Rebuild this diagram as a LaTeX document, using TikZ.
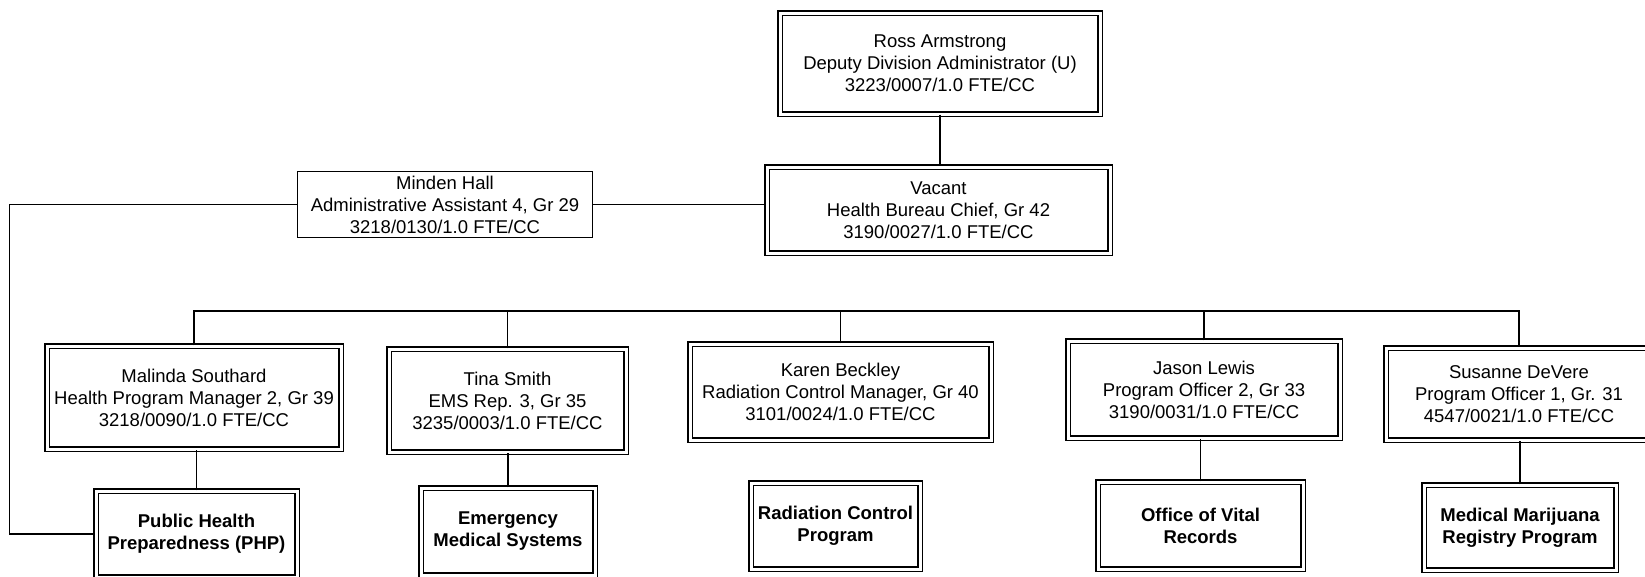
\documentclass[tikz,border=0pt]{standalone}
\usepackage{fontspec}
\setmainfont{Liberation Sans}
\usetikzlibrary{positioning}

\begin{document}
\begin{tikzpicture}[
  x=1pt, y=-1pt,
  line width=1.3pt,
  font=\fontsize{18.5}{22}\selectfont,
  post/.style={draw, double=white, double distance=3pt, align=center, inner sep=2pt},
  unit/.style={post, font=\fontsize{18.5}{22}\selectfont\bfseries},
  aide/.style={draw, line width=1.4pt, align=center, inner sep=2pt}]
  \useasboundingbox (0,0) rectangle (1645,576);
  % top of the chart
  \node[post, minimum width=320pt, minimum height=101pt] (ross) at (940,63.5)
    {Ross Armstrong\\Deputy Division Administrator (U)\\3223/0007/1.0 FTE/CC};
  \node[post, minimum width=343pt, minimum height=86pt] (vacant) at (938.5,210)
    {Vacant\\Health Bureau Chief, Gr 42\\3190/0027/1.0 FTE/CC};
  \node[aide, minimum width=295pt, minimum height=66pt] (minden) at (445,204.5)
    {Minden Hall\\Administrative Assistant 4, Gr 29\\3218/0130/1.0 FTE/CC};
  % managers
  \node[post, minimum width=294pt, minimum height=103pt] (malinda) at (194,397.5)
    {Malinda Southard\\Health Program Manager 2, Gr 39\\3218/0090/1.0 FTE/CC};
  \node[post, minimum width=237pt, minimum height=103pt] (tina) at (507.5,400.5)
    {Tina Smith\\EMS Rep. 3, Gr 35\\3235/0003/1.0 FTE/CC};
  \node[post, minimum width=301pt, minimum height=96pt] (karen) at (840.5,392)
    {Karen Beckley\\Radiation Control Manager, Gr 40\\3101/0024/1.0 FTE/CC};
  \node[post, minimum width=272pt, minimum height=97pt] (jason) at (1204,389.5)
    {Jason Lewis\\Program Officer 2, Gr 33\\3190/0031/1.0 FTE/CC};
  \node[post, minimum width=266pt, minimum height=92pt] (susanne) at (1519,394)
    {Susanne DeVere\\Program Officer 1, Gr. 31\\4547/0021/1.0 FTE/CC};
  % programs
  \node[unit, minimum width=201pt, minimum height=86pt] (php) at (196.5,534)
    {Public Health\\Preparedness (PHP)};
  \node[unit, minimum width=174pt, minimum height=87pt] (ems) at (508,531.5)
    {Emergency\\Medical Systems};
  \node[unit, minimum width=169pt, minimum height=86pt] (rcp) at (835.5,526)
    {Radiation Control\\Program};
  \node[unit, minimum width=205pt, minimum height=87pt] (ovr) at (1200.5,525.5)
    {Office of Vital\\Records};
  \node[unit, minimum width=192pt, minimum height=85pt] (mmr) at (1520,527.5)
    {Medical Marijuana\\Registry Program};
  \coordinate (bus) at (0,311);
  % connectors
  \draw (ross.south) -- (ross.south |- vacant.north);
  \draw (minden.east) -- (minden.east -| vacant.west);
  \draw (minden.west) -- ++(-287,0) |- (php.west);
  \draw (malinda.north) -- (malinda.north |- bus) -- (susanne.north |- bus) -- (susanne.north);
  \foreach \m in {tina, karen, jason}
    \draw (\m.north) -- (\m.north |- bus);
  \foreach \m/\p in {malinda/php, tina/ems, jason/ovr, susanne/mmr}
    \draw (\p.north) -- (\p.north |- \m.south);
\end{tikzpicture}
\end{document}
